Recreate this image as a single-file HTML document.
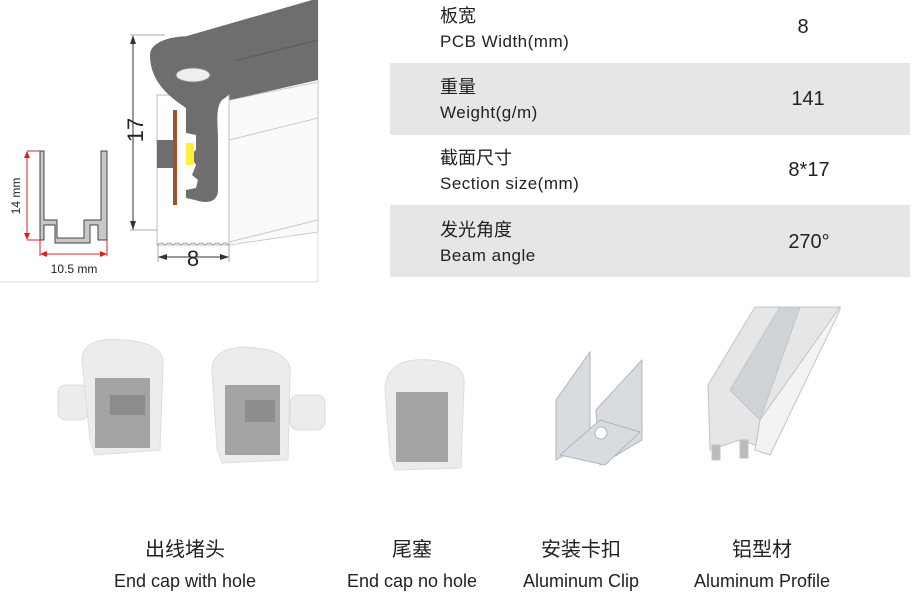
<!DOCTYPE html>
<html><head><meta charset="utf-8"><style>
html,body{margin:0;padding:0;background:#fff;}
body{width:919px;height:609px;overflow:hidden;position:relative;font-family:"Liberation Sans","Noto Sans CJK SC",sans-serif;color:#222;}
svg{position:absolute;left:0;top:0;}
</style></head><body>
<svg width="919" height="609" viewBox="0 0 919 609" xmlns="http://www.w3.org/2000/svg" font-family="Liberation Sans, Noto Sans CJK SC, sans-serif">
<line x1="318" y1="0" x2="318" y2="282" stroke="#ddd"/>
<line x1="0" y1="282" x2="318" y2="282" stroke="#ddd"/>
<rect x="390" y="63" width="520" height="72" fill="#e6e6e6"/>
<rect x="390" y="205" width="520" height="72" fill="#e6e6e6"/>
<g fill="#222">
<text x="440" y="22" font-size="18">板宽</text>
<text x="440" y="47" font-size="17" letter-spacing="0.5">PCB Width(mm)</text>
<text x="440" y="93" font-size="18">重量</text>
<text x="440" y="118" font-size="17" letter-spacing="0.5">Weight(g/m)</text>
<text x="440" y="164" font-size="18">截面尺寸</text>
<text x="440" y="189" font-size="17" letter-spacing="0.5">Section size(mm)</text>
<text x="440" y="236" font-size="18">发光角度</text>
<text x="440" y="261" font-size="17" letter-spacing="0.5">Beam angle</text>
<g font-size="20" text-anchor="middle">
<text x="803" y="33">8</text>
<text x="808" y="105">141</text>
<text x="809" y="176">8*17</text>
<text x="809" y="248">270°</text>
</g>
</g>
<polygon points="229,100 318,82 318,232 229,245" fill="#fafafa" stroke="#ccc"/>
<line x1="229" y1="140" x2="318" y2="118" stroke="#ccc"/>
<line x1="229" y1="242" x2="318" y2="220" stroke="#ccc"/>
<polygon points="180,38 312,0 318,0 318,80 230,100" fill="#6e6e6e"/>
<line x1="230" y1="62" x2="318" y2="40" stroke="#5a5a5a"/>
<rect x="157" y="95" width="72" height="150" fill="#fff" stroke="#bbb"/>
<path d="M157,245 q4,-4 8,0 q4,-4 8,0 q4,-4 8,0 q4,-4 8,0 q4,-4 8,0 q4,-4 8,0 q4,-4 8,0 q4,-4 8,0 q4,-4 8,0" fill="none" stroke="#aaa"/>
<rect x="157" y="140" width="20" height="28" fill="#6e6e6e"/>
<path d="M150,55 C150,35 200,30 225,45 C245,60 240,90 222,100 C215,108 218,125 218,140 L218,190 C218,200 210,205 195,200 L186,198 L186,190 L196,188 L198,180 L192,175 L196,165 L190,155 L196,150 L196,135 L186,133 L186,108 C175,100 150,85 150,55 Z" fill="#6e6e6e"/>
<ellipse cx="193" cy="75" rx="17" ry="7" fill="#eee" stroke="#888"/>
<rect x="173" y="110" width="4" height="95" fill="#a0522d"/>
<rect x="186" y="143" width="8" height="22" fill="#ffef3b"/>
<g stroke="#333" fill="none">
<line x1="133" y1="37" x2="133" y2="230"/>
<line x1="130" y1="35" x2="165" y2="35" stroke="#aaa"/>
<line x1="130" y1="230" x2="157" y2="230" stroke="#aaa"/>
<line x1="158" y1="257" x2="229" y2="257"/>
<line x1="158" y1="245" x2="158" y2="262" stroke="#aaa"/>
<line x1="229" y1="245" x2="229" y2="262" stroke="#aaa"/>
</g>
<g fill="#333"><polygon points="133,35 130,44 136,44"/><polygon points="133,230 130,221 136,221"/>
<polygon points="158,257 167,254 167,260"/><polygon points="229,257 220,254 220,260"/></g>
<text transform="translate(143,130) rotate(-90)" font-size="22" text-anchor="middle" fill="#222">17</text>
<text x="193" y="266" font-size="22" text-anchor="middle" fill="#222">8</text>
<path d="M40,151 L44,151 L44,220 L57,220 L57,238 L84,238 L84,220 L101,220 L101,151 L107,151 L107,240 L98,240 L98,225 L90,225 L90,243 L55,243 L55,225 L44,225 L44,240 L40,240 Z" fill="#c8c8c8" stroke="#444" stroke-width="1"/>
<g stroke="#e02020" fill="#e02020"><line x1="27" y1="152" x2="27" y2="238"/><line x1="27" y1="151" x2="40" y2="151"/><line x1="27" y1="240" x2="40" y2="240"/>
<line x1="42" y1="254" x2="106" y2="254"/><line x1="40" y1="240" x2="40" y2="256"/><line x1="107" y1="240" x2="107" y2="256"/>
<polygon points="27,151 24,158 30,158" stroke="none"/><polygon points="27,240 24,233 30,233" stroke="none"/>
<polygon points="40,254 47,251 47,257" stroke="none"/><polygon points="107,254 100,251 100,257" stroke="none"/></g>
<text transform="translate(20,196) rotate(-90)" font-size="12" text-anchor="middle" fill="#222">14 mm</text>
<text x="74" y="273" font-size="12" text-anchor="middle" fill="#222">10.5 mm</text>
<g fill="#ececec" stroke="#ddd">
<rect x="58" y="385" width="30" height="35" rx="8"/>
<path d="M82,360 C82,340 105,338 125,340 C150,342 165,350 163,365 L160,450 L95,455 L90,440 Z"/>
<rect x="95" y="378" width="55" height="70" fill="#a4a4a4" stroke="none"/>
<rect x="110" y="395" width="35" height="20" fill="#8c8c8c" stroke="none"/>
<rect x="290" y="395" width="35" height="35" rx="8"/>
<path d="M212,370 C212,350 235,345 255,348 C280,350 292,360 290,375 L288,460 L222,463 L217,448 Z"/>
<rect x="225" y="385" width="55" height="70" fill="#a4a4a4" stroke="none"/>
<rect x="245" y="400" width="30" height="22" fill="#8c8c8c" stroke="none"/>
<path d="M385,390 C385,365 405,358 430,360 C455,362 466,370 464,385 L461,468 L395,470 L390,455 Z"/>
<rect x="396" y="392" width="52" height="70" fill="#a4a4a4" stroke="none"/>
</g>
<g fill="#d8dce0" stroke="#b0b4b8">
<polygon points="556,400 590,352 590,440 556,460"/>
<polygon points="596,410 642,360 642,440 600,465"/>
<polygon points="560,455 600,420 640,432 605,465"/>
<circle cx="601" cy="433" r="6" fill="#fff"/>
</g>
<g fill="#e4e6e8" stroke="#c0c4c8">
<polygon points="708,385 755,307 840,307 770,450 740,440 710,450"/>
<polygon points="730,390 780,307 800,307 760,420" fill="#cfd3d6"/>
<polygon points="760,420 840,307 840,310 770,455 755,450" fill="#f2f3f4"/>
<rect x="712" y="445" width="8" height="15" fill="#bbb"/>
<rect x="740" y="440" width="8" height="18" fill="#bbb"/>
</g>
<g fill="#222" text-anchor="middle">
<g font-size="20">
<text x="185" y="556">出线堵头</text>
<text x="412" y="556">尾塞</text>
<text x="581" y="556">安装卡扣</text>
<text x="762" y="556">铝型材</text>
</g>
<g font-size="18">
<text x="185" y="587">End cap with hole</text>
<text x="412" y="587">End cap no hole</text>
<text x="581" y="587">Aluminum Clip</text>
<text x="762" y="587">Aluminum Profile</text>
</g>
</g>
</svg>
</body></html>
